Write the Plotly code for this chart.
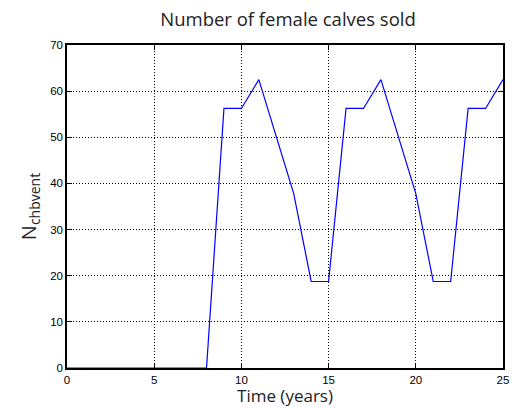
import plotly.graph_objects as go

years = list(range(0, 26))
calves_sold = [0, 0, 0, 0, 0, 0, 0, 0, 0,
               56.25, 56.25, 62.5, 50.1, 37.8, 18.75, 18.75,
               56.25, 56.25, 62.5, 50.1, 37.8, 18.75, 18.75,
               56.25, 56.25, 62.5]
x_ticks = [0, 5, 10, 15, 20, 25]
y_ticks = [0, 10, 20, 30, 40, 50, 60, 70]

fig = go.Figure()
fig.add_trace(go.Scatter(x=years, y=calves_sold, mode="lines",
                         line=dict(color="#0000ff", width=1.2),
                         showlegend=False))

axis_common = dict(
    showline=True, linecolor="black", linewidth=1.5, mirror="ticks",
    ticks="inside", ticklen=5, tickcolor="black", tickwidth=1,
    showgrid=True, gridcolor="black", gridwidth=1, griddash="1px,2px",
    zeroline=False, automargin=False,
    tickfont=dict(family="Liberation Sans, Arial", size=11.5, color="black"),
)

fig.update_xaxes(range=[0, 25], tickvals=x_ticks, ticklabelstandoff=0,
                 title=dict(text="Time (years)", standoff=2,
                            font=dict(family="Open Sans, Lato", size=17, color="#222")),
                 **axis_common)
fig.update_yaxes(range=[0, 70], tickvals=y_ticks,
                 title=dict(text="N<sub>chbvent</sub>", standoff=8,
                            font=dict(family="Open Sans, Lato", size=20, color="#222")),
                 **axis_common)

fig.update_layout(
    width=512, height=407,
    margin=dict(l=67, r=9, t=45, b=39, autoexpand=False),
    paper_bgcolor="white", plot_bgcolor="white",
    title=dict(text="Number of female calves sold", x=0.5625, xanchor="center",
               y=0.952, yanchor="middle",
               font=dict(family="Open Sans, Lato", size=18.5, color="#222")),
)

fig.write_html("out.html", config={"displayModeBar": False},
               post_script="document.body.style.margin='0';")
